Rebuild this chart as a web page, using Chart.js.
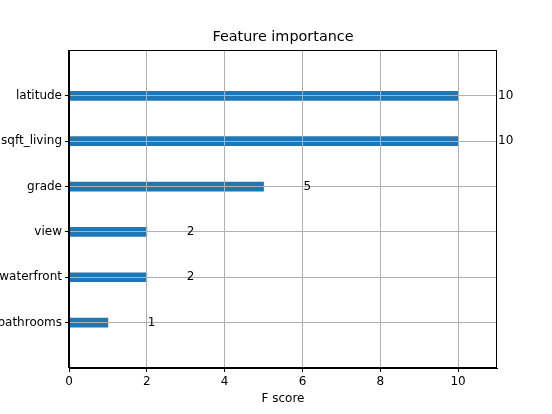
<!DOCTYPE html>
<html>
<head>
<meta charset="utf-8">
<script src="https://cdn.jsdelivr.net/npm/chart.js@4"></script>
<style>
body { margin: 0; background: #fff; }
canvas { display: block; }
</style>
</head>
<body>
<canvas id="grafico" width="552" height="414"></canvas>
<script>
// top to bottom, same order as the picture
var features = ['latitude', 'sqft_living', 'grade', 'view', 'waterfront', 'bathrooms']
var scores = [10, 10, 5, 2, 2, 1]
var xTicks = [0, 2, 4, 6, 8, 10]

var n = features.length
// first bar sits at y = 0 on the bottom, like matplotlib barh
var pontos = features.map(function (f, i) { return { x: scores[i], y: n - 1 - i } })

function nomeDaPosicao(v) {
    return features[n - 1 - v] || ''
}

Chart.defaults.font.family = 'DejaVu Sans'
Chart.defaults.color = '#000'

// grid goes over the bars, like in the picture
var grade = { color: '#b0b0b0', lineWidth: 1, tickColor: '#000', tickLength: 4, offset: false, z: 1 }

// numbers next to the bars + the box round the plot
var extras = {
    id: 'extras',
    afterDraw(chart) {
        var c = chart.ctx
        var xs = chart.scales.x
        var ys = chart.scales.y
        var a = chart.chartArea
        c.save()
        c.font = '12px "DejaVu Sans"'
        c.fillStyle = '#000'
        c.textAlign = 'left'
        c.textBaseline = 'middle'
        pontos.forEach(function (p) {
            c.fillText(String(p.x), xs.getPixelForValue(p.x + 1) + 1, ys.getPixelForValue(p.y))
        })
        c.strokeStyle = '#000'
        c.lineWidth = 1
        c.strokeRect(Math.round(a.left) - 0.5, Math.round(a.top) + 0.5, Math.round(a.right - a.left), Math.round(a.bottom - a.top) - 1)
        c.restore()
    }
}

var myChart = new Chart(document.getElementById('grafico'), {
    type: 'bar',
    data: {
        datasets: [{
            data: pontos,
            backgroundColor: '#1f77b4',
            borderWidth: 0,
            barThickness: 9
        }]
    },
    options: {
        indexAxis: 'y',
        responsive: false,
        animation: false,
        layout: { padding: { left: 0, right: 55, top: 0, bottom: 0 } },
        plugins: {
            legend: { display: false },
            tooltip: { enabled: false },
            title: {
                display: true,
                text: 'Feature importance',
                fullSize: false,
                color: '#000',
                font: { size: 14.4, weight: 'normal' },
                padding: { top: 28.6, bottom: 4.6 }
            }
        },
        scales: {
            x: {
                type: 'linear',
                min: 0,
                max: 11,
                z: 1,
                afterBuildTicks: function (s) { s.ticks = xTicks.map(function (v) { return { value: v } }) },
                afterFit: function (s) { s.height = 46 },
                ticks: { font: { size: 12 }, padding: 3, maxRotation: 0 },
                title: { display: true, text: 'F score', font: { size: 12 }, padding: { top: 0, bottom: 8 } },
                grid: grade,
                border: { color: '#000', z: 2 }
            },
            y: {
                type: 'linear',
                min: -1,
                max: 6,
                z: 1,
                offset: false,
                afterBuildTicks: function (s) { s.ticks = features.map(function (f, i) { return { value: i } }) },
                afterFit: function (s) { s.width = 69 },
                ticks: { callback: function (v) { return nomeDaPosicao(v) }, font: { size: 12 }, padding: 3, autoSkip: false },
                grid: grade,
                border: { color: '#000', z: 2 }
            }
        }
    },
    plugins: [extras]
})
</script>
</body>
</html>
